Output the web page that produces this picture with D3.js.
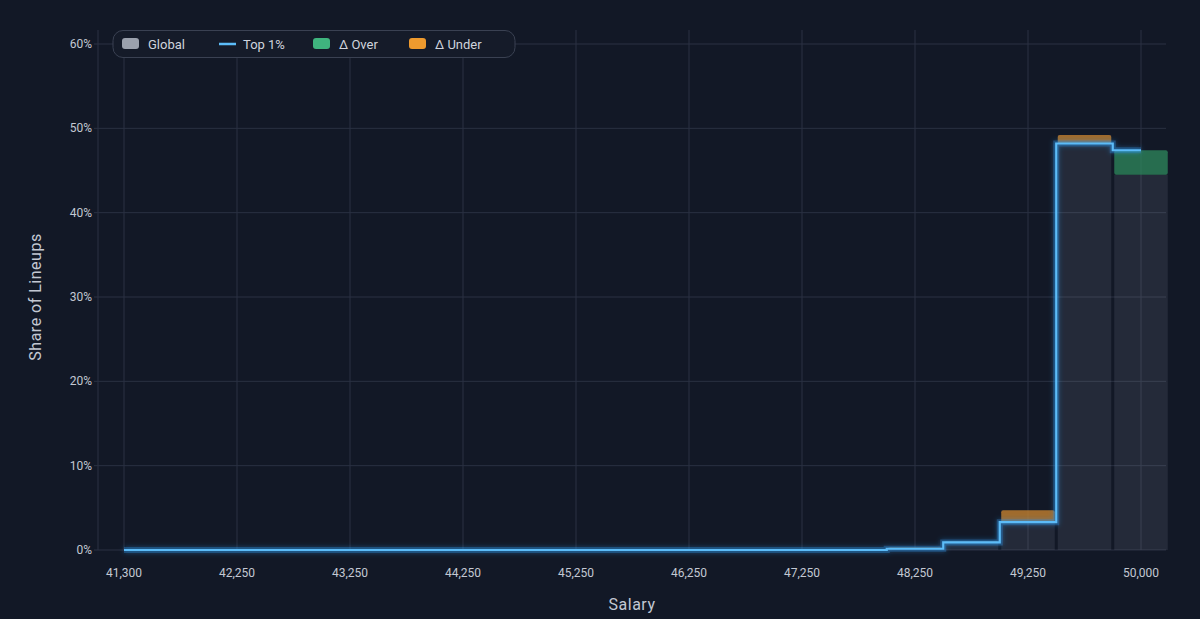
<!DOCTYPE html>
<html><head><meta charset="utf-8">
<script src="https://cdn.jsdelivr.net/npm/d3@7"></script>
<style>body{margin:0;background:#121826;}svg{display:block;font-family:Roboto,sans-serif;}</style>
</head><body><div id="chart"></div>
<script>
// bins (salary) and shares in %
var salaryBins = [41300,41750,42250,42750,43250,43750,44250,44750,45250,45750,46250,46750,47250,47750,48250,48750,49250,49750,50000];
var globalShare = [0,0,0,0,0,0,0,0,0,0,0,0,0,0,0.3,1.0,4.7,49.2,44.5];
var top1Share   = [0,0,0,0,0,0,0,0,0,0,0,0,0,0,0.15,0.9,3.3,48.2,47.4];
var yTicks = [0,10,20,30,40,50,60];
var tickLabels = ["41,300","42,250","43,250","44,250","45,250","46,250","47,250","48,250","49,250","50,000"];

var W = 1200, H = 619;
var svg = d3.select("#chart").append("svg").attr("width", W).attr("height", H);
svg.append("rect").attr("width", W).attr("height", H).attr("fill", "#121826");

var defs = svg.append("defs");
var f = defs.append("filter").attr("id","glow").attr("x","-5%").attr("y","-5%").attr("width","110%").attr("height","110%");
f.append("feGaussianBlur").attr("stdDeviation",2.5).attr("result","b");
var m = f.append("feMerge"); m.append("feMergeNode").attr("in","b"); m.append("feMergeNode").attr("in","SourceGraphic");

// x in bin index units
var x = d3.scaleLinear().domain([0, 18]).range([124, 1141]);
var y = d3.scaleLinear().domain([0, 60]).range([550, 44]);
var bw = x(1) - x(0);

// grid
svg.append("g").selectAll("line").data(yTicks).enter().append("line")
  .attr("x1", 98).attr("x2", 1166).attr("y1", d => y(d)).attr("y2", d => y(d))
  .attr("stroke", "#2a3142").attr("stroke-width", 1);
svg.append("g").selectAll("line").data(tickLabels).enter().append("line")
  .attr("x1", (d,i) => x(i*2)).attr("x2", (d,i) => x(i*2)).attr("y1", 30).attr("y2", 550)
  .attr("stroke", "#2a3142").attr("stroke-width", 1);
svg.append("line").attr("x1",98).attr("x2",98).attr("y1",30).attr("y2",550).attr("stroke","#2a3142");

// y labels
svg.append("g").selectAll("text").data(yTicks).enter().append("text")
  .attr("x", 92).attr("y", d => y(d)+4).attr("text-anchor","end")
  .attr("fill","#c3c8d3").attr("font-size",12).text(d => d + "%");
svg.selectAll(".ytk").data(yTicks).enter().append("line")
  .attr("x1",94).attr("x2",98).attr("y1",d=>y(d)).attr("y2",d=>y(d)).attr("stroke","#2a3142");
// x labels
svg.append("g").selectAll("text").data(tickLabels).enter().append("text")
  .attr("x", (d,i) => x(i*2)).attr("y", 577).attr("text-anchor","middle")
  .attr("fill","#c3c8d3").attr("font-size",12).text(d => d);

// global bars
svg.append("g").selectAll("rect").data(globalShare).enter().append("rect")
  .attr("x", (d,i) => x(i) - bw/2 + 1.5).attr("width", bw - 3)
  .attr("y", d => y(d)).attr("height", d => y(0) - y(d))
  .attr("fill", "#a0a8bc").attr("fill-opacity", 0.13);

// deltas
svg.append("g").selectAll("rect").data(globalShare).enter().append("rect")
  .attr("x", (d,i) => x(i) - bw/2 + 1.5).attr("width", bw - 3)
  .attr("y", (d,i) => y(Math.max(d, top1Share[i])))
  .attr("height", (d,i) => Math.abs(y(d) - y(top1Share[i])))
  .attr("rx", 2)
  .attr("fill", (d,i) => top1Share[i] > d ? "#2f8a5e" : "#c9822a")
  .attr("fill-opacity", (d,i) => top1Share[i] > d ? 0.75 : 0.75);

// top 1% step line
var line = d3.line().x((d,i) => x(i)).y(d => y(d)).curve(d3.curveStep);
svg.append("path").datum(top1Share).attr("d", line)
  .attr("fill","none").attr("stroke","#2f8fe0").attr("stroke-width",6).attr("stroke-opacity",0.35)
  .attr("filter","url(#glow)");
svg.append("path").datum(top1Share).attr("d", line)
  .attr("fill","none").attr("stroke","#5cbcf8").attr("stroke-width",2.2);

// axis titles
svg.append("text").attr("x", 632).attr("y", 610).attr("text-anchor","middle")
  .attr("fill","#c3c8d3").attr("font-size",16).attr("letter-spacing",0.5).text("Salary");
svg.append("text").attr("transform","translate(41,297) rotate(-90)").attr("text-anchor","middle")
  .attr("fill","#c3c8d3").attr("font-size",16).attr("letter-spacing",0.5).text("Share of Lineups");

// legend
var lg = svg.append("g");
lg.append("rect").attr("x",113).attr("y",30.5).attr("width",402).attr("height",27).attr("rx",10)
  .attr("fill","#151b29").attr("stroke","#3a4152");
var items = [{t:"Global",c:"#9ba1ad",k:"box",x:122},{t:"Top 1%",c:"#5cbcf8",k:"line",x:217},
             {t:"Δ Over",c:"#3fb47e",k:"box",x:313},{t:"Δ Under",c:"#ee9a2e",k:"box",x:409}];
items.forEach(function(it){
  if (it.k === "box") lg.append("rect").attr("x",it.x).attr("y",38).attr("width",17).attr("height",11).attr("rx",3).attr("fill",it.c);
  else lg.append("line").attr("x1",it.x+2).attr("x2",it.x+19).attr("y1",44).attr("y2",44).attr("stroke",it.c).attr("stroke-width",2.5);
  lg.append("text").attr("x",it.x+26).attr("y",49).attr("fill","#d0d4dd").attr("font-size",13).text(it.t);
});
</script></body></html>
